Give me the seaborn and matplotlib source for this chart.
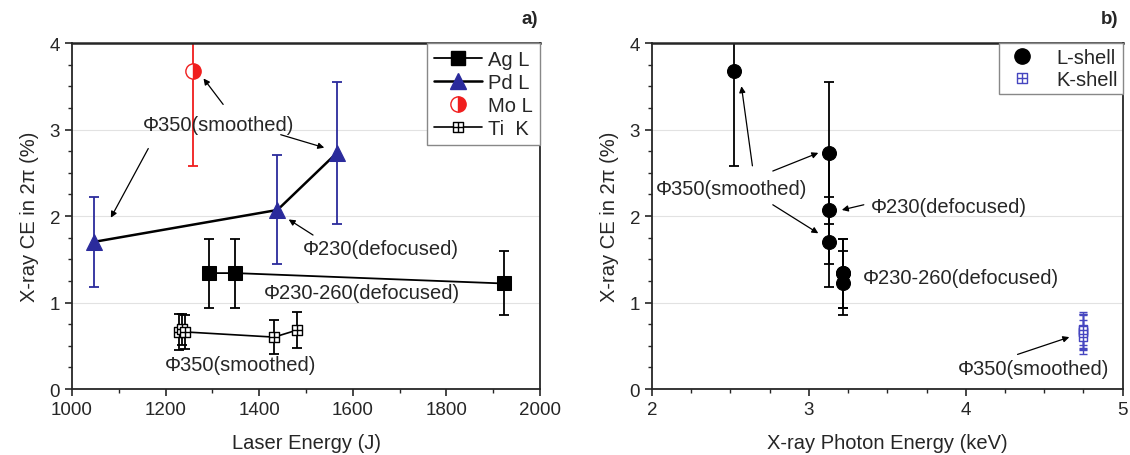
import matplotlib
matplotlib.use('Agg')
import matplotlib.pyplot as plt
import seaborn as sns
from matplotlib.path import Path
from matplotlib.lines import Line2D
from matplotlib.ticker import MultipleLocator

# panel a: CE vs laser energy
ag_energy = [1293, 1349, 1922]
ag_ce = [1.34, 1.34, 1.22]
ag_err = [0.40, 0.40, 0.37]

pd_energy = [1046, 1439, 1566]
pd_ce = [1.70, 2.07, 2.73]
pd_err = [0.52, 0.63, 0.82]

mo_energy = [1258]
mo_ce = [3.68]
mo_err = [1.10]

ti_energy = [1229, 1236, 1241, 1432, 1480]
ti_ce = [0.66, 0.69, 0.66, 0.60, 0.68]
ti_err = [0.21, 0.18, 0.20, 0.195, 0.21]

# panel b: CE vs x-ray photon energy
mo_kev = 2.52
pd_kev = 3.13
ag_kev = 3.22
ti_kev = 4.75

l_kev = [mo_kev] + [pd_kev] * 3 + [ag_kev] * 3
l_ce = mo_ce + pd_ce + ag_ce
l_err = mo_err + pd_err + ag_err
k_kev = [ti_kev] * 5
k_ce = ti_ce
k_err = ti_err

blue = '#2b2b9c'
kblue = '#4646c0'
red = '#f01e1e'

sns.set_style('ticks')
plt.rcParams['font.family'] = ['Liberation Sans', 'DejaVu Sans']
plt.rcParams['font.size'] = 14.5

# square with a cross inside
cross_sq = Path([(-1, -1), (1, -1), (1, 1), (-1, 1), (-1, -1), (0, -1), (0, 1), (-1, 0), (1, 0)],
                [Path.MOVETO, Path.LINETO, Path.LINETO, Path.LINETO, Path.CLOSEPOLY,
                 Path.MOVETO, Path.LINETO, Path.MOVETO, Path.LINETO])

fig = plt.figure(figsize=(11.3, 4.56), dpi=100)
ax1 = fig.add_axes([0.0637, 0.1447, 0.4142, 0.7588])
ax2 = fig.add_axes([0.577, 0.1447, 0.4165, 0.7588])

arrow = dict(arrowstyle='-|>', color='black', lw=0.9, mutation_scale=9, shrinkA=0, shrinkB=0)
eb = dict(fmt='none', elinewidth=1.3, capsize=3.5, capthick=1.3, zorder=2)

# ---- panel a ----
ax1.errorbar(ag_energy, ag_ce, yerr=ag_err, ecolor='black', **eb)
ax1.errorbar(pd_energy, pd_ce, yerr=pd_err, ecolor=blue, **eb)
ax1.errorbar(mo_energy, mo_ce, yerr=mo_err, ecolor=red, **eb)
ax1.errorbar(ti_energy, ti_ce, yerr=ti_err, ecolor='black', **eb)

sns.lineplot(x=ag_energy, y=ag_ce, ax=ax1, color='black', lw=1.3, marker='s', markersize=10,
             markeredgecolor='black', zorder=3)
sns.lineplot(x=pd_energy, y=pd_ce, ax=ax1, color='black', lw=1.8, marker='^', markersize=11.5,
             markerfacecolor=blue, markeredgecolor=blue, zorder=3)
sns.lineplot(x=ti_energy, y=ti_ce, ax=ax1, color='black', lw=1.2, marker=cross_sq, markersize=7.5,
             markerfacecolor='white', markeredgecolor='black', markeredgewidth=1.0, zorder=3)
ax1.plot(mo_energy, mo_ce, ls='none', marker='o', markersize=11, fillstyle='right',
         markerfacecolor=red, markerfacecoloralt='white', markeredgecolor=red, zorder=3)

ax1.text(1313, 3.06, 'Φ350(smoothed)', ha='center', va='center')
ax1.annotate('', xy=(1281, 3.59), xytext=(1323, 3.29), arrowprops=arrow)
ax1.annotate('', xy=(1083, 1.98), xytext=(1163, 2.78), arrowprops=arrow)
ax1.annotate('', xy=(1539, 2.79), xytext=(1446, 2.94), arrowprops=arrow)
ax1.text(1659, 1.63, 'Φ230(defocused)', ha='center', va='center')
ax1.annotate('', xy=(1463, 1.96), xytext=(1515, 1.78), arrowprops=arrow)
ax1.text(1620, 1.11, 'Φ230-260(defocused)', ha='center', va='center')
ax1.text(1360, 0.28, 'Φ350(smoothed)', ha='center', va='center')

ax1.set_xlim(1000, 2000)
ax1.xaxis.set_major_locator(MultipleLocator(200))
ax1.xaxis.set_minor_locator(MultipleLocator(100))
ax1.set_xlabel('Laser Energy (J)', labelpad=11)

h_a = [Line2D([], [], color='black', lw=1.3, marker='s', ms=10),
       Line2D([], [], color='black', lw=1.8, marker='^', ms=11.5, mfc=blue, mec=blue),
       Line2D([], [], ls='none', marker='o', ms=11, fillstyle='right', mfc=red,
              markerfacecoloralt='white', mec=red),
       Line2D([], [], color='black', lw=1.2, marker=cross_sq, ms=7.5, mfc='white', mec='black')]
ax1.legend(h_a, ['Ag L', 'Pd L', 'Mo L', 'Ti  K'], loc='upper right', borderaxespad=0,
           fancybox=False, edgecolor='#888888', framealpha=1, handlelength=2.4,
           labelspacing=0.2, handletextpad=0.3, borderpad=0.35)

# ---- panel b ----
ax2.errorbar(l_kev, l_ce, yerr=l_err, ecolor='black', **eb)
ax2.errorbar(k_kev, k_ce, yerr=k_err, ecolor=kblue, fmt='none', elinewidth=1.0,
             capsize=3, capthick=1.0, zorder=2)
sns.scatterplot(x=l_kev, y=l_ce, ax=ax2, color='black', s=100, edgecolor='black', zorder=3)
sns.scatterplot(x=k_kev, y=k_ce, ax=ax2, marker=cross_sq, s=40, facecolor='white',
                edgecolor=kblue, linewidth=1.0, zorder=3)

ax2.text(2.51, 2.32, 'Φ350(smoothed)', ha='center', va='center')
ax2.annotate('', xy=(2.57, 3.50), xytext=(2.64, 2.58), arrowprops=arrow)
ax2.annotate('', xy=(3.06, 2.73), xytext=(2.77, 2.52), arrowprops=arrow)
ax2.annotate('', xy=(3.06, 1.80), xytext=(2.77, 2.13), arrowprops=arrow)
ax2.text(3.89, 2.11, 'Φ230(defocused)', ha='center', va='center')
ax2.annotate('', xy=(3.21, 2.07), xytext=(3.35, 2.13), arrowprops=arrow)
ax2.text(3.97, 1.29, 'Φ230-260(defocused)', ha='center', va='center')
ax2.text(4.43, 0.24, 'Φ350(smoothed)', ha='center', va='center')
ax2.annotate('', xy=(4.66, 0.60), xytext=(4.33, 0.40), arrowprops=arrow)

ax2.set_xlim(2, 5)
ax2.xaxis.set_major_locator(MultipleLocator(1))
ax2.xaxis.set_minor_locator(MultipleLocator(0.25))
ax2.set_xlabel('X-ray Photon Energy (keV)', labelpad=11)

h_b = [Line2D([], [], ls='none', marker='o', ms=11, color='black'),
       Line2D([], [], ls='none', marker=cross_sq, ms=6.5, mfc='white', mec=kblue)]
ax2.legend(h_b, ['L-shell', 'K-shell'], loc='upper right', borderaxespad=0,
           fancybox=False, edgecolor='#888888', framealpha=1, handlelength=1.8,
           labelspacing=0.15, handletextpad=0.8, borderpad=0.25)

for ax in (ax1, ax2):
    ax.set_ylim(0, 4)
    ax.yaxis.set_major_locator(MultipleLocator(1))
    ax.yaxis.set_minor_locator(MultipleLocator(0.25))
    ax.set_ylabel('X-ray CE in 2π (%)', labelpad=8)
    ax.yaxis.grid(True, which='major', color='#e2e2e2', lw=0.8)
    ax.set_axisbelow(True)
    ax.tick_params(which='major', direction='out', length=5, width=1.2, labelsize=13.5)
    ax.tick_params(which='minor', direction='out', length=3, width=1.0)
    for side in ('left', 'bottom', 'right'):
        ax.spines[side].set_linewidth(1.3)
    ax.spines['top'].set_linewidth(1.8)

fig.text(530 / 1130, 1 - 20 / 456, 'a)', ha='center', va='center', fontsize=13.5, fontweight='bold')
fig.text(1110 / 1130, 1 - 20 / 456, 'b)', ha='center', va='center', fontsize=13.5, fontweight='bold')

fig.savefig('out.png', dpi=100)
